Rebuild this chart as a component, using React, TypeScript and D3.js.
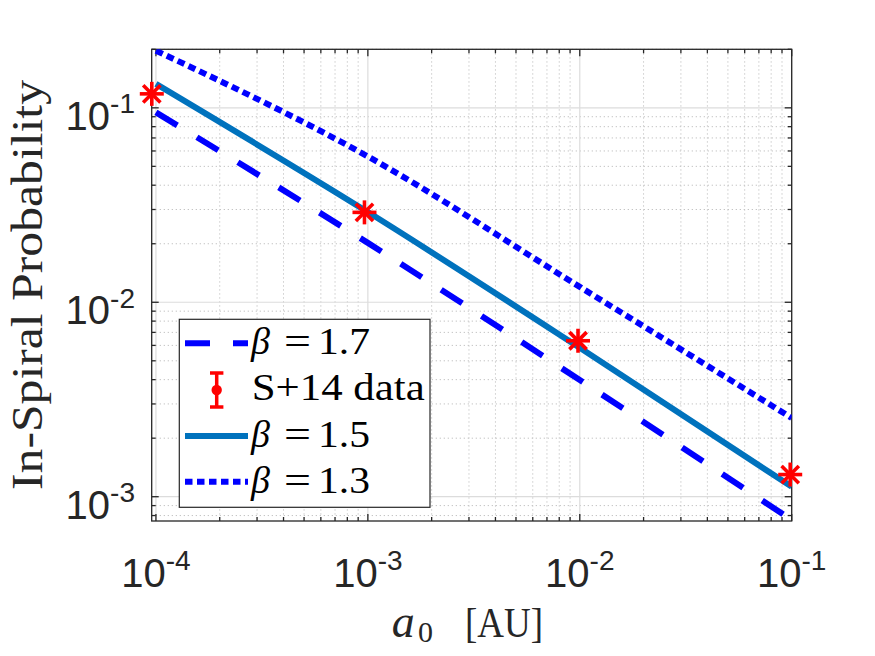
import React from "react";
import * as d3 from "d3";

const aValues = [1e-4, 1e-3, 1e-2, 1e-1];
const beta17 = [0.0948, 0.0202, 0.00398, 0.000759];
const beta15 = [0.1327, 0.0291, 0.00583, 0.001125];
const beta13 = [0.1968, 0.0562, 0.012, 0.00254];
const dataA = [9.56e-5, 9.64e-4, 9.81e-3, 0.0984];
const dataP = [0.118, 0.029, 0.00634, 0.0013];
const xTickValues = [1e-4, 1e-3, 1e-2, 1e-1];
const xTickExps = ["-4", "-3", "-2", "-1"];
const yTickValues = [1e-3, 1e-2, 1e-1];
const yTickExps = ["-3", "-2", "-1"];
const legendBetas = ["1.7", "", "1.5", "1.3"];

const W = 875;
const H = 656;
const L = 151.7;
const R = 791.7;
const T = 49.3;
const B = 521;
const AX = "#262626";
const SANS = "'Liberation Sans', Arial, sans-serif";
const SERIF = "'Liberation Serif', 'Times New Roman', serif";

export default function App() {
  const x = d3.scaleLog().domain([9.55e-5, 0.1]).range([L, R]);
  const y = d3.scaleLog().domain([7.5e-4, 0.2]).range([B, T]);

  const xMinor: number[] = [];
  for (let e = -5; e <= -2; e++)
    for (let m = 2; m <= 9; m++) {
      const v = m * Math.pow(10, e);
      if (v >= 9.55e-5 && v <= 0.1) xMinor.push(v);
    }
  const yMinor: number[] = [];
  for (let e = -4; e <= -1; e++)
    for (let m = 2; m <= 9; m++) {
      const v = m * Math.pow(10, e);
      if (v >= 7.5e-4 && v <= 0.2001) yMinor.push(v);
    }

  const line = d3
    .line<[number, number]>()
    .x((d) => x(d[0]))
    .y((d) => y(d[1]))
    .curve(d3.curveMonotoneX);
  const mk = (vals: number[]) =>
    line(aValues.map((a, i) => [a, vals[i]] as [number, number])) || "";

  const legendRowY = [343.3, 389, 436, 481.7];
  const star = (cx: number, cy: number, k: number) => {
    const r = 12;
    const d = r * 0.72;
    return (
      <g key={k} stroke="#FF0000" strokeWidth={3.6} strokeLinecap="butt">
        <line x1={cx} y1={cy - r} x2={cx} y2={cy + r} />
        <line x1={cx - r} y1={cy} x2={cx + r} y2={cy} />
        <line x1={cx - d} y1={cy - d} x2={cx + d} y2={cy + d} />
        <line x1={cx - d} y1={cy + d} x2={cx + d} y2={cy - d} />
      </g>
    );
  };

  return (
    <svg
      width={W}
      height={H}
      style={{ position: "absolute", left: 0, top: 0, background: "#fff" }}
    >
      <rect x={0} y={0} width={W} height={H} fill="#fff" />
      <defs>
        <clipPath id="plotclip">
          <rect x={L} y={T} width={R - L} height={B - T} />
        </clipPath>
      </defs>
      {/* minor grid */}
      <g stroke="#c4c4c4" strokeWidth={1} strokeDasharray="1.3,2.7">
        {xMinor.map((v, i) => (
          <line key={"xm" + i} x1={x(v)} x2={x(v)} y1={T} y2={B} />
        ))}
        {yMinor.map((v, i) => (
          <line key={"ym" + i} x1={L} x2={R} y1={y(v)} y2={y(v)} />
        ))}
      </g>
      {/* major grid */}
      <g stroke="#dcdcdc" strokeWidth={1.2}>
        {xTickValues.map((v, i) => (
          <line key={"xg" + i} x1={x(v)} x2={x(v)} y1={T} y2={B} />
        ))}
        {yTickValues.map((v, i) => (
          <line key={"yg" + i} x1={L} x2={R} y1={y(v)} y2={y(v)} />
        ))}
      </g>
      {/* axes box and ticks */}
      <g stroke={AX} strokeWidth={1.3}>
        <rect x={L} y={T} width={R - L} height={B - T} fill="none" />
        {xTickValues.map((v, i) => (
          <g key={"xt" + i}>
            <line x1={x(v)} x2={x(v)} y1={B} y2={B - 7} />
            <line x1={x(v)} x2={x(v)} y1={T} y2={T + 7} />
          </g>
        ))}
        {xMinor.map((v, i) => (
          <g key={"xmt" + i}>
            <line x1={x(v)} x2={x(v)} y1={B} y2={B - 4} />
            <line x1={x(v)} x2={x(v)} y1={T} y2={T + 4} />
          </g>
        ))}
        {yTickValues.map((v, i) => (
          <g key={"yt" + i}>
            <line x1={L} x2={L + 7} y1={y(v)} y2={y(v)} />
            <line x1={R} x2={R - 7} y1={y(v)} y2={y(v)} />
          </g>
        ))}
        {yMinor.map((v, i) => (
          <g key={"ymt" + i}>
            <line x1={L} x2={L + 4} y1={y(v)} y2={y(v)} />
            <line x1={R} x2={R - 4} y1={y(v)} y2={y(v)} />
          </g>
        ))}
      </g>
      {/* tick labels */}
      <g fill={AX} fontFamily={SANS}>
        {xTickValues.map((v, i) => (
          <text key={"xl" + i} x={x(v)} y={586.7} fontSize={40} textAnchor="middle">
            <tspan>10</tspan>
            <tspan dy={-16.7} fontSize={28}>
              {xTickExps[i]}
            </tspan>
          </text>
        ))}
        {yTickValues.map((v, i) => (
          <text key={"yl" + i} x={135} y={y(v) + 22} fontSize={40} textAnchor="end">
            <tspan>10</tspan>
            <tspan dy={-16.7} fontSize={28}>
              {yTickExps[i]}
            </tspan>
          </text>
        ))}
      </g>
      {/* data lines */}
      <g clipPath="url(#plotclip)" fill="none" strokeWidth={6}>
        <path d={mk(beta17)} stroke="#0000FF" strokeDasharray="25,23" />
        <path d={mk(beta15)} stroke="#0072BD" />
        <path d={mk(beta13)} stroke="#0000FF" strokeDasharray="7.5,4.5" />
      </g>
      {/* data markers */}
      {dataA.map((a, i) => star(x(a), y(dataP[i]), i))}
      {/* legend */}
      <rect
        x={179.3}
        y={319.3}
        width={250.7}
        height={188}
        fill="#fff"
        stroke={AX}
        strokeWidth={1.2}
      />
      <g strokeWidth={6} fill="none">
        <line x1={185} x2={248} y1={legendRowY[0]} y2={legendRowY[0]} stroke="#0000FF" strokeDasharray="25,23" />
        <line x1={185} x2={248} y1={legendRowY[2]} y2={legendRowY[2]} stroke="#0072BD" />
        <line x1={185} x2={248} y1={legendRowY[3]} y2={legendRowY[3]} stroke="#0000FF" strokeDasharray="7.5,4.5" />
      </g>
      <g stroke="#FF0000" strokeWidth={3.5}>
        <line x1={216.7} x2={216.7} y1={373} y2={407} />
        <line x1={210} x2={223.4} y1={373} y2={373} />
        <line x1={210} x2={223.4} y1={407} y2={407} />
        <circle cx={216.7} cy={390} r={5.2} fill="#FF0000" stroke="none" />
      </g>
      <g fill="#000" fontFamily={SERIF} fontSize={38}>
        {legendBetas.map((b, i) =>
          b === "" ? (
            <text key={"lt" + i} x={251.7} y={legendRowY[i] + 11} textLength={173} lengthAdjust="spacingAndGlyphs">
              S+14 data
            </text>
          ) : (
            <g key={"lt" + i}>
              <text x={251} y={legendRowY[i] + 11} fontStyle="italic">
                β
              </text>
              <text x={284} y={legendRowY[i] + 11} textLength={27} lengthAdjust="spacingAndGlyphs">
                =
              </text>
              <text x={318} y={legendRowY[i] + 11} textLength={52} lengthAdjust="spacingAndGlyphs">
                {b}
              </text>
            </g>
          )
        )}
      </g>
      {/* axis labels */}
      <text
        transform="translate(42,285) rotate(-90)"
        textAnchor="middle"
        fontFamily={SERIF}
        fontSize={44}
        fill={AX}
        textLength={410}
        lengthAdjust="spacingAndGlyphs"
      >
        In-Spiral Probability
      </text>
      <g fontFamily={SERIF} fill={AX}>
        <text x={391.7} y={636.7} fontSize={46} fontStyle="italic">
          a
        </text>
        <text x={418} y={641.7} fontSize={30}>
          0
        </text>
        <text x={465} y={636.7} fontSize={43} textLength={78} lengthAdjust="spacingAndGlyphs">
          [AU]
        </text>
      </g>
    </svg>
  );
}
